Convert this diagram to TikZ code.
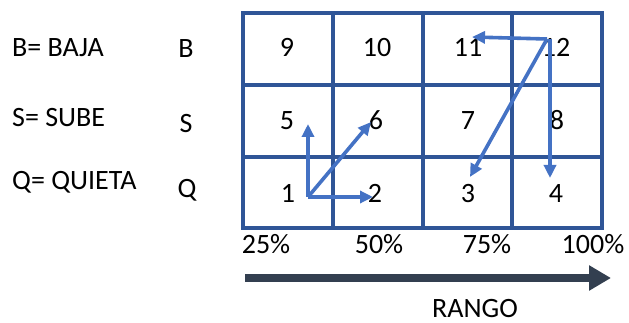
\documentclass[tikz,border=0pt]{standalone}
\usepackage{fontspec}
\setmainfont{Carlito}
\usetikzlibrary{arrows.meta}
\definecolor{gridblue}{HTML}{2F5597}
\definecolor{moveblue}{HTML}{4472C4}
\definecolor{slate}{HTML}{333F50}

\begin{document}
\begin{tikzpicture}[x=1pt,y=-1pt,
  lbl/.style={anchor=base,inner sep=0pt,font=\fontsize{28}{30}\selectfont},
  move/.style={line width=3.6pt,moveblue,-{Triangle[length=13pt,width=12pt]}}]
\useasboundingbox (0,0) rectangle (629,323);
% grid
\draw[line width=3.5pt, gridblue] (243,13) rectangle (602,228);
\draw[line width=3.5pt, gridblue] (333,13) -- (333,228);
\draw[line width=3.5pt, gridblue] (423,13) -- (423,228);
\draw[line width=3.5pt, gridblue] (512,13) -- (512,228);
\draw[line width=3.5pt, gridblue] (243,85) -- (602,85);
\draw[line width=3.5pt, gridblue] (243,157) -- (602,157);
% legend
\node[lbl, anchor=base west] (bdef) at (12,57) {B= BAJA};
\node[lbl, anchor=base west] (sdef) at (12,127) {S= SUBE};
\node[lbl, anchor=base west] (qdef) at (12,190) {Q= QUIETA};
\node[lbl] (rowb) at (186,58) {B};
\node[lbl] (rows) at (186,133) {S};
\node[lbl] (rowq) at (187,198) {Q};
% cells
\node[lbl] (c9) at (287,57) {9};
\node[lbl] (c10) at (377,57) {10};
\node[lbl] (c11) at (468,57) {11};
\node[lbl] (c12) at (556,57) {12};
\node[lbl] (c5) at (287,130) {5};
\node[lbl] (c6) at (376,130) {6};
\node[lbl] (c7) at (468,130) {7};
\node[lbl] (c8) at (557,130) {8};
\node[lbl] (c1) at (288,203) {1};
\node[lbl] (c2) at (375,203) {2};
\node[lbl] (c3) at (468,203) {3};
\node[lbl] (c4) at (556,203) {4};
% moves
\coordinate (from1) at (308,197);
\coordinate (to5) at (308,124);
\coordinate (to6) at (371,122);
\coordinate (to2) at (373,197);
\coordinate (from12) at (547,39);
\coordinate (to11) at (472,37);
\coordinate (to4) at (550,178);
\coordinate (to3) at (470,177);
\draw[move] (from1) -- (to5);
\draw[move] (from1) -- (to6);
\draw[move] (from1) -- (to2);
\draw[move] (from12) -- (to11);
\draw[move] (from12 -| to4) -- (to4);
\draw[move] (from12) -- (to3);
% range axis
\node[lbl] (p25) at (266,254) {25\%};
\node[lbl] (p50) at (379,254) {50\%};
\node[lbl] (p75) at (487,254) {75\%};
\node[lbl] (p100) at (593,254) {100\%};
\coordinate (axl) at (245,278);
\coordinate (axr) at (611,278);
\draw[line width=8pt, slate, -{Triangle[length=22pt,width=24pt]}] (axl) -- (axr);
\node[lbl] (rango) at (475,317) {RANGO};
\end{tikzpicture}
\end{document}
